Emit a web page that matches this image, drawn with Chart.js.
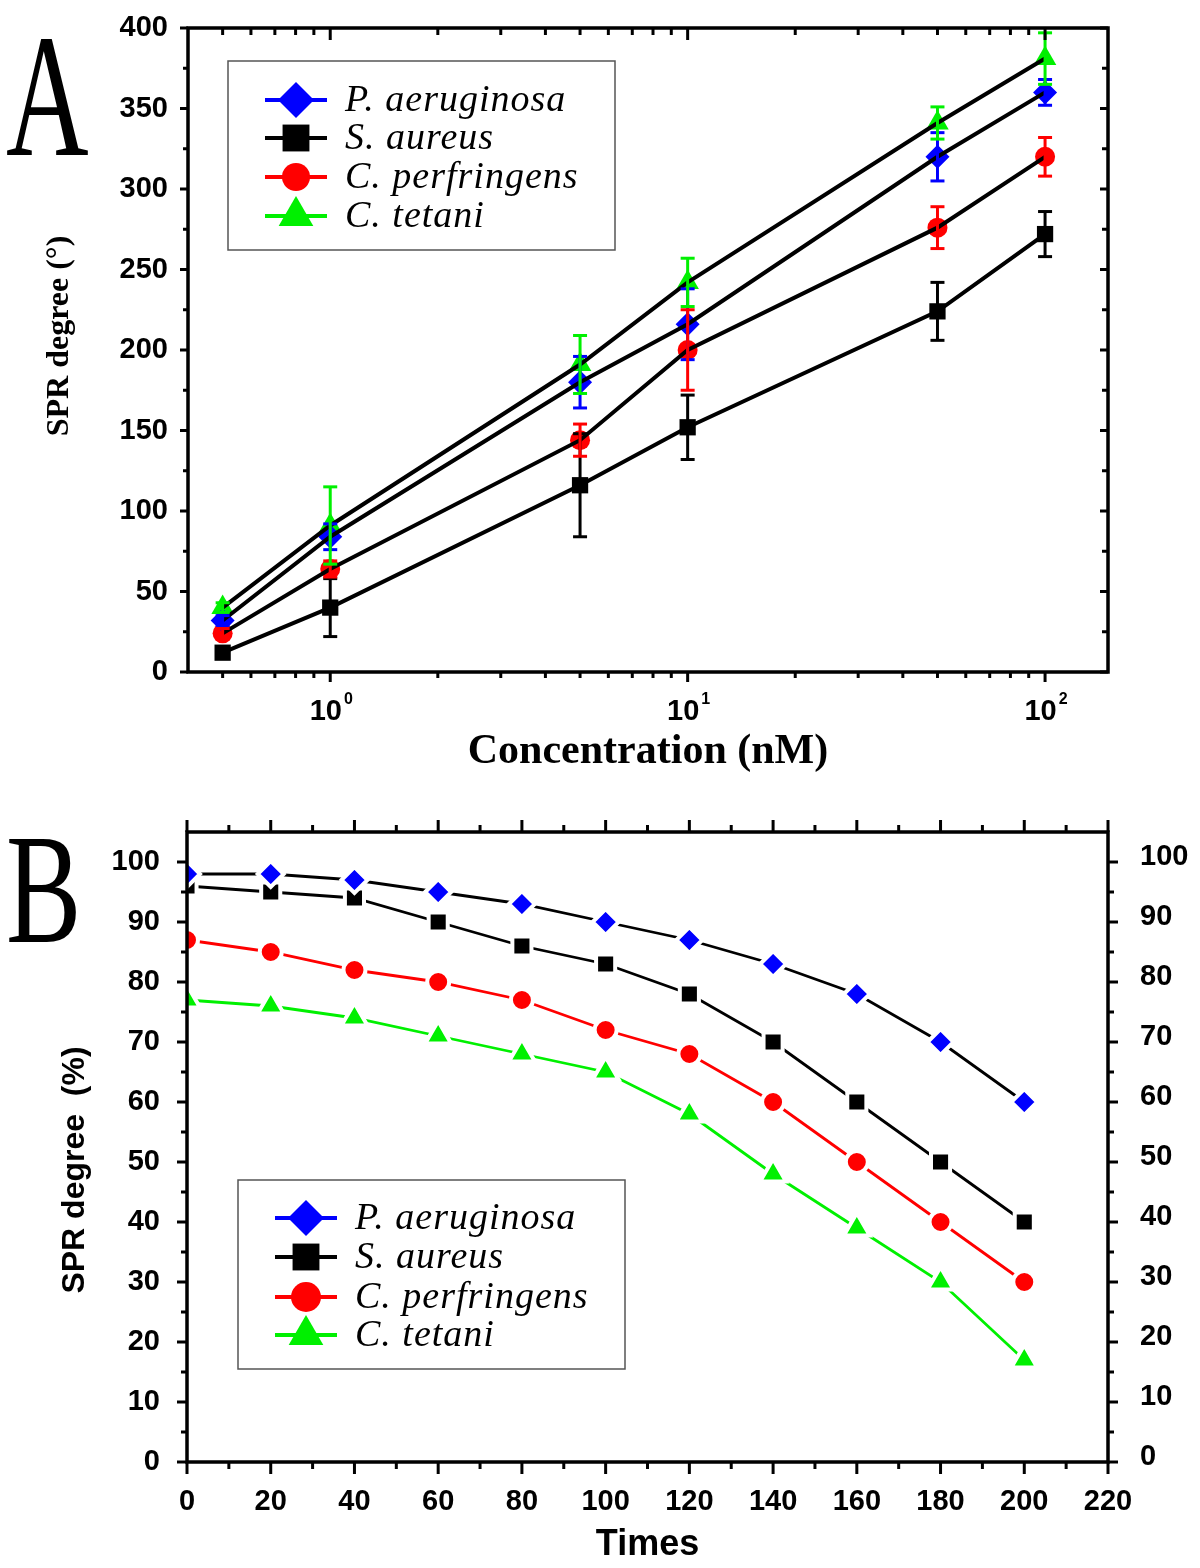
<!DOCTYPE html>
<html>
<head>
<meta charset="utf-8">
<title>SPR response of bacteria</title>
<script src="https://cdn.jsdelivr.net/npm/chart.js@4.4.1/dist/chart.umd.min.js"></script>
<style>
  html, body { margin: 0; padding: 0; background: #fff; }
  #wrap { position: relative; width: 1200px; height: 1568px; background: #fff; }
  canvas { position: absolute; left: 0; }
  #chartA { top: 0; }
  #chartB { top: 790px; }
</style>
</head>
<body>
<div id="wrap">
  <canvas id="chartA" width="1200" height="790"></canvas>
  <canvas id="chartB" width="1200" height="778"></canvas>
</div>
<script>
// ---- panel A: SPR degree vs concentration (log x), mean and error ----
const concA = [0.5, 1, 5, 10, 50, 100];
const paA = [32, 84, 180, 216, 320, 360];
const saA = [12, 40, 116, 152, 224, 272];
const cpA = [24, 64, 144, 200, 276, 320];
const ctA = [40, 91, 191, 242, 341, 381];
const paErrA = [3, 8, 16, 22, 15, 8];
const saErrA = [3, 18, 32, 20, 18, 14];
const cpErrA = [3, 5, 10, 25, 13, 12];
const ctErrA = [3, 24, 18, 15, 10, 16];
const yTicksA = [0, 50, 100, 150, 200, 250, 300, 350, 400];
const decadesA = [1, 10, 100];

// ---- panel B: SPR degree (%) vs times ----
const timesB = [0, 20, 40, 60, 80, 100, 120, 140, 160, 180, 200];
const paB = [98, 98, 97, 95, 93, 90, 87, 83, 78, 70, 60];
const saB = [96, 95, 94, 90, 86, 83, 78, 70, 60, 50, 40];
const cpB = [87, 85, 82, 80, 77, 72, 68, 60, 50, 40, 30];
const ctB = [77, 76, 74, 71, 68, 65, 58, 48, 39, 30, 17];
const yTicksB = [0, 10, 20, 30, 40, 50, 60, 70, 80, 90, 100];
const xTicksB = [0, 20, 40, 60, 80, 100, 120, 140, 160, 180, 200, 220];

const seriesNames = ['P. aeruginosa', 'S. aureus', 'C. perfringens', 'C. tetani'];
const seriesColors = ['#0000ff', '#000000', '#ff0000', '#00f000'];
const seriesShapes = ['rectRot', 'rect', 'circle', 'triangle'];
const valuesA = [paA, saA, cpA, ctA];
const errorsA = [paErrA, saErrA, cpErrA, ctErrA];
const valuesB = [paB, saB, cpB, ctB];
const lineColorsB = ['#000000', '#000000', '#ff0000', '#00f000'];

const drawPoint = Chart.helpers.drawPoint;
const SANS = '"Liberation Sans", Arial, sans-serif';
const SERIF = '"Liberation Serif", "Times New Roman", serif';

function line(ctx, x1, y1, x2, y2) {
  ctx.beginPath();
  ctx.moveTo(x1, y1);
  ctx.lineTo(x2, y2);
  ctx.stroke();
}

// tick marks on one side of the frame; outward=false points into the plot
function sideTicks(chart, scaleId, side, values, len, outward) {
  const ctx = chart.ctx, a = chart.chartArea, s = chart.scales[scaleId];
  const k = outward ? 1 : -1;
  values.forEach(v => {
    const p = s.getPixelForValue(v);
    if (side === 'bottom') line(ctx, p, a.bottom, p, a.bottom + k * len);
    if (side === 'top') line(ctx, p, a.top, p, a.top - k * len);
    if (side === 'left') line(ctx, a.left, p, a.left - k * len, p);
    if (side === 'right') line(ctx, a.right, p, a.right + k * len, p);
  });
}

function frame(chart) {
  const ctx = chart.ctx, a = chart.chartArea;
  ctx.lineWidth = 3.5;
  ctx.strokeStyle = '#000';
  ctx.strokeRect(a.left, a.top, a.right - a.left, a.bottom - a.top);
  ctx.lineWidth = 3;
}

function legendBox(ctx, box, rows, radii) {
  ctx.save();
  ctx.fillStyle = '#fff';
  ctx.fillRect(box.x, box.y, box.w, box.h);
  ctx.strokeStyle = '#555';
  ctx.lineWidth = 1.5;
  ctx.strokeRect(box.x, box.y, box.w, box.h);
  seriesNames.forEach((name, i) => {
    const y = rows[i];
    const x1 = box.x + 37, x2 = box.x + 99;
    ctx.strokeStyle = seriesColors[i];
    ctx.lineWidth = 4;
    line(ctx, x1, y, x2, y);
    ctx.fillStyle = seriesColors[i];
    drawPoint(ctx, { pointStyle: seriesShapes[i], radius: radii[i], rotation: 0, borderWidth: 0 }, (x1 + x2) / 2, y);
    ctx.fillStyle = '#000';
    ctx.font = 'italic 38px ' + SERIF;
    ctx.letterSpacing = '1px';
    ctx.textAlign = 'left';
    ctx.textBaseline = 'alphabetic';
    ctx.fillText(name, box.x + 117, y + 11);
  });
  ctx.restore();
}

function panelLetter(ctx, letter, x, baseline, size, sx) {
  ctx.save();
  ctx.fillStyle = '#000';
  ctx.font = size + 'px ' + SERIF;
  ctx.textBaseline = 'alphabetic';
  ctx.translate(x, baseline);
  ctx.scale(sx, 1);
  ctx.fillText(letter, 0, 0);
  ctx.restore();
}

function vTitle(ctx, text, font, cx, cy) {
  ctx.save();
  ctx.translate(cx, cy);
  ctx.rotate(-Math.PI / 2);
  ctx.fillStyle = '#000';
  ctx.font = font;
  ctx.textAlign = 'center';
  ctx.textBaseline = 'middle';
  ctx.fillText(text, 0, 0);
  ctx.restore();
}

// the y tick labels should not push the plot area down
function fixBox(size, key) {
  return s => {
    s[key] = size;
    s.paddingTop = 0;
    s.paddingBottom = 0;
    s.paddingLeft = 0;
    s.paddingRight = 0;
  };
}

// minor ticks of the log axis: 2..9 of each decade
const logMinorA = [];
[0.1, 1, 10].forEach(d => {
  for (let k = 2; k <= 9; k++) {
    const v = +(k * d).toFixed(3);
    if (v > 0.4 && v < 150) logMinorA.push(v);
  }
});

const decorA = {
  id: 'decorA',
  afterDatasetsDraw(chart) {
    const ctx = chart.ctx, xs = chart.scales.x, ys = chart.scales.y;
    ctx.save();
    ctx.lineWidth = 3;
    errorsA.forEach((errs, i) => {
      ctx.strokeStyle = seriesColors[i];
      concA.forEach((c, j) => {
        const px = xs.getPixelForValue(c);
        const top = ys.getPixelForValue(valuesA[i][j] + errs[j]);
        const bot = ys.getPixelForValue(valuesA[i][j] - errs[j]);
        line(ctx, px, top, px, bot);
        line(ctx, px - 7, top, px + 7, top);
        line(ctx, px - 7, bot, px + 7, bot);
      });
    });
    ctx.restore();
  },
  afterDraw(chart) {
    const ctx = chart.ctx, xs = chart.scales.x;
    ctx.save();
    frame(chart);
    sideTicks(chart, 'x', 'bottom', decadesA, 10, true);
    sideTicks(chart, 'x', 'bottom', logMinorA, 6, true);
    sideTicks(chart, 'x', 'top', decadesA, 12, false);
    sideTicks(chart, 'x', 'top', logMinorA, 7, false);
    const minorY = yTicksA.slice(1).map(v => v - 25);
    sideTicks(chart, 'y', 'left', yTicksA, 8, true);
    sideTicks(chart, 'y', 'left', minorY, 5, true);
    sideTicks(chart, 'y', 'right', yTicksA, 8, false);
    sideTicks(chart, 'y', 'right', minorY, 6, false);

    // decade labels 10^n
    ctx.fillStyle = '#000';
    ctx.textBaseline = 'alphabetic';
    ctx.textAlign = 'left';
    decadesA.forEach(v => {
      const exp = String(Math.round(Math.log10(v)));
      const px = xs.getPixelForValue(v);
      ctx.font = 'bold 29px ' + SANS;
      const w1 = ctx.measureText('10').width;
      ctx.font = 'bold 16px ' + SANS;
      const w2 = ctx.measureText(exp).width;
      const x0 = px - (w1 + w2) / 2;
      ctx.font = 'bold 29px ' + SANS;
      ctx.fillText('10', x0, 720);
      ctx.font = 'bold 16px ' + SANS;
      ctx.fillText(exp, x0 + w1 + 2, 704);
    });
    ctx.restore();

    panelLetter(ctx, 'A', 6, 155, 176, 0.65);
    vTitle(ctx, 'SPR degree (°)', 'bold 32px ' + SERIF, 60, 336);
    legendBox(ctx, { x: 228, y: 61, w: 387, h: 189 }, [100, 138, 177, 216], [18, 19, 14, 20]);
  }
};

const decorB = {
  id: 'decorB',
  afterDraw(chart) {
    const ctx = chart.ctx;
    ctx.save();
    frame(chart);
    const minorX = xTicksB.slice(1).map(v => v - 10);
    const minorY = yTicksB.slice(1).map(v => v - 5);
    sideTicks(chart, 'x', 'bottom', xTicksB, 12, true);
    sideTicks(chart, 'x', 'bottom', minorX, 7, true);
    sideTicks(chart, 'x', 'top', xTicksB, 12, true);
    sideTicks(chart, 'x', 'top', minorX, 7, true);
    sideTicks(chart, 'y', 'left', yTicksB, 10, true);
    sideTicks(chart, 'y', 'left', minorY, 6, true);
    sideTicks(chart, 'y', 'right', yTicksB, 10, true);
    sideTicks(chart, 'y', 'right', minorY, 6, true);
    ctx.restore();

    panelLetter(ctx, 'B', 6, 152, 157, 0.72);
    vTitle(ctx, 'SPR degree  (%)', 'bold 32px ' + SANS, 75, 380);
    legendBox(ctx, { x: 238, y: 390, w: 387, h: 189 }, [428, 467, 507, 545], [18, 19, 15, 20]);
  }
};

const tickFont = { family: SANS, size: 29, weight: 'bold' };
const hidden = { grid: { display: false, drawTicks: false }, border: { display: false } };

// ---------------- chart A ----------------
const radiiA = [12, 11.5, 10, 13];
const datasetsA = [];
seriesNames.forEach((name, i) => {
  const pts = concA.map((c, j) => ({ x: c, y: valuesA[i][j] }));
  datasetsA.push({
    label: name, data: pts, showLine: false, order: 2,
    pointStyle: seriesShapes[i], pointRadius: radiiA[i], pointBorderWidth: 0,
    backgroundColor: seriesColors[i], borderColor: seriesColors[i]
  });
  datasetsA.push({
    label: name + ' fit', data: pts, showLine: true, order: 1,
    borderColor: '#000', borderWidth: 4, pointRadius: 0, fill: false
  });
});

new Chart(document.getElementById('chartA'), {
  type: 'scatter',
  data: { datasets: datasetsA },
  options: {
    responsive: false,
    animation: false,
    devicePixelRatio: 1,
    events: [],
    layout: { padding: 0 },
    plugins: { legend: { display: false }, tooltip: { enabled: false } },
    scales: {
      x: {
        type: 'logarithmic', position: 'bottom', min: 0.4, max: 150, ...hidden,
        ticks: { display: false },
        title: { display: true, text: 'Concentration (nM)', color: '#000',
                 font: { family: SERIF, size: 42, weight: 'bold' }, padding: { top: 0, bottom: 13 } },
        afterFit: fixBox(118, 'height')
      },
      xTop: {
        type: 'logarithmic', position: 'top', min: 0.4, max: 150, ...hidden,
        ticks: { display: false },
        afterFit: fixBox(28, 'height')
      },
      y: {
        type: 'linear', position: 'left', min: 0, max: 400, ...hidden,
        afterBuildTicks: s => { s.ticks = yTicksA.map(v => ({ value: v })); },
        ticks: { font: tickFont, color: '#000', padding: 20 },
        afterFit: fixBox(188, 'width')
      },
      yRight: {
        type: 'linear', position: 'right', min: 0, max: 400, ...hidden,
        ticks: { display: false },
        afterFit: fixBox(92, 'width')
      }
    }
  },
  plugins: [decorA]
});

// ---------------- chart B ----------------
const radiiB = [13, 13.5, 11, 15];
const datasetsB = seriesNames.map((name, i) => ({
  label: name,
  data: timesB.map((t, j) => ({ x: t, y: valuesB[i][j] })),
  showLine: true,
  borderColor: lineColorsB[i],
  borderWidth: 2.8,
  pointStyle: seriesShapes[i],
  pointRadius: radiiB[i],
  pointBackgroundColor: seriesColors[i],
  pointBorderColor: '#fff',
  pointBorderWidth: 4
}));

new Chart(document.getElementById('chartB'), {
  type: 'scatter',
  data: { datasets: datasetsB },
  options: {
    responsive: false,
    animation: false,
    devicePixelRatio: 1,
    events: [],
    layout: { padding: 0 },
    plugins: { legend: { display: false }, tooltip: { enabled: false } },
    scales: {
      x: {
        type: 'linear', position: 'bottom', min: 0, max: 220, ...hidden,
        afterBuildTicks: s => { s.ticks = xTicksB.map(v => ({ value: v })); },
        ticks: { font: tickFont, color: '#000', padding: 23, maxRotation: 0, autoSkip: false },
        title: { display: true, text: 'Times', color: '#000',
                 font: { family: SANS, size: 36, weight: 'bold' }, padding: { top: 0, bottom: 1 } },
        afterFit: fixBox(106, 'height')
      },
      xTop: {
        type: 'linear', position: 'top', min: 0, max: 220, ...hidden,
        ticks: { display: false },
        afterFit: fixBox(42, 'height')
      },
      y: {
        type: 'linear', position: 'left', min: 0, max: 105, ...hidden,
        afterBuildTicks: s => { s.ticks = yTicksB.map(v => ({ value: v })); },
        ticks: { font: tickFont, color: '#000', padding: 27 },
        afterFit: fixBox(187, 'width')
      },
      yRight: {
        type: 'linear', position: 'right', min: 0, max: 105, ...hidden,
        afterBuildTicks: s => { s.ticks = yTicksB.map(v => ({ value: v })); },
        ticks: { font: tickFont, color: '#000', padding: 32, labelOffset: -5 },
        afterFit: fixBox(92, 'width')
      }
    }
  },
  plugins: [decorB]
});
</script>
</body>
</html>
